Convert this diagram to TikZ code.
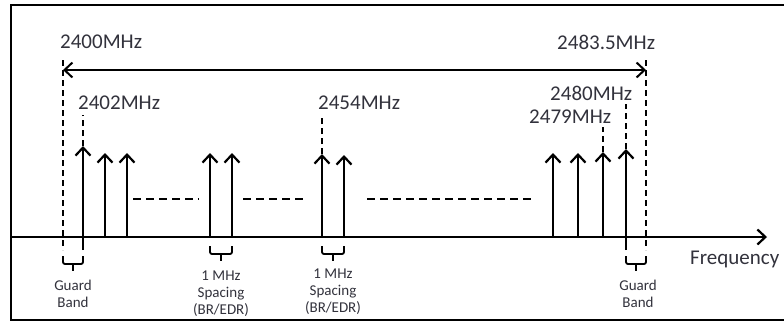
\documentclass[tikz,border=0pt]{standalone}
\usepackage{fontspec}
\setmainfont{Carlito}
\usepackage{tikz}
\usetikzlibrary{arrows.meta}
\definecolor{labelgray}{RGB}{50,50,60}

\begin{document}
\begin{tikzpicture}[x=1pt, y=-1pt,
  chan/.style={-{Straight Barb[length=8pt,width=15pt]}, line width=2.2pt},
  guide/.style={dash pattern=on 6pt off 4pt, line width=2pt},
  gapline/.style={dash pattern=on 8pt off 5pt, line width=2pt},
  freq/.style={anchor=west, inner sep=0pt, font=\fontsize{21}{25}\selectfont, text=labelgray},
  note/.style={anchor=north, align=center, inner sep=0pt,
               font=\fontsize{15}{17}\selectfont, text=labelgray},
  brace/.style={line width=1.8pt, rounded corners=2pt}
]
\useasboundingbox (0,0) rectangle (784,322);
\draw[line width=2pt] (784,5) -- (11,5) -- (11,320) -- (784,320);

\coordinate (o) at (11,237);
\coordinate (fend) at (767,237);
\draw[chan] (o) -- (fend);

\coordinate (lo) at (63,70);
\coordinate (hi) at (646,70);
\draw[guide] (63,60) -- (63,250);
\draw[guide] (646,60) -- (646,250);
\draw[{Straight Barb[length=8pt,width=15pt]}-{Straight Barb[length=8pt,width=15pt]}, line width=2pt] (lo) -- (hi);

\foreach \n/\x/\bot/\tip in {1/83/250/146, 2/105/237/153, 3/127/237/153,
    4/210/237/153, 5/232/237/153, 6/322/237/154, 7/344/237/155,
    8/553/237/153, 9/578/237/153, 10/603/237/152, 11/626/250/149}{
  \coordinate (b\n) at (\x,\bot);
  \coordinate (t\n) at (\x,\tip);
  \draw[chan] (b\n) -- (t\n);
}

\draw[guide] (t1) -- ++(0,-31);
\draw[guide] (t6) -- ++(0,-36);
\draw[guide] (t10) -- ++(0,-25);
\draw[guide] (t11) -- ++(0,-45);

\draw[gapline] (133,199) -- (199,199);
\draw[gapline] (243,199) -- (307,199);
\draw[gapline] (367,199) -- (532,199);

\node[freq] (f2400) at (60,42) {2400MHz};
\node[freq] (f2402) at (78,103) {2402MHz};
\node[freq] (f2454) at (318,103) {2454MHz};
\node[freq] (f2480) at (550,93) {2480MHz};
\node[freq] (f2479) at (529,117) {2479MHz};
\node[freq] (f2483) at (557,42) {2483.5MHz};
\node[freq, anchor=base west] (faxis) at (690,264) {Frequency};

\foreach \xa/\xb/\yt in {63/83/256, 210/232/246, 322/344/246, 626/646/256}{
  \draw[brace] (\xa,\yt) -- (\xa,\yt+8) -- (\xb,\yt+8) -- (\xb,\yt);
  \draw[brace] ({(\xa+\xb)/2},\yt+8) -- ({(\xa+\xb)/2},\yt+15);
}

\node[note] (gleft) at (73,280) {Guard\\Band};
\node[note] (sleft) at (221,271) {1 MHz\\Spacing\\(BR/EDR)};
\node[note] (sright) at (333,269) {1 MHz\\Spacing\\(BR/EDR)};
\node[note] (gright) at (638,280) {Guard\\Band};
\end{tikzpicture}
\end{document}
